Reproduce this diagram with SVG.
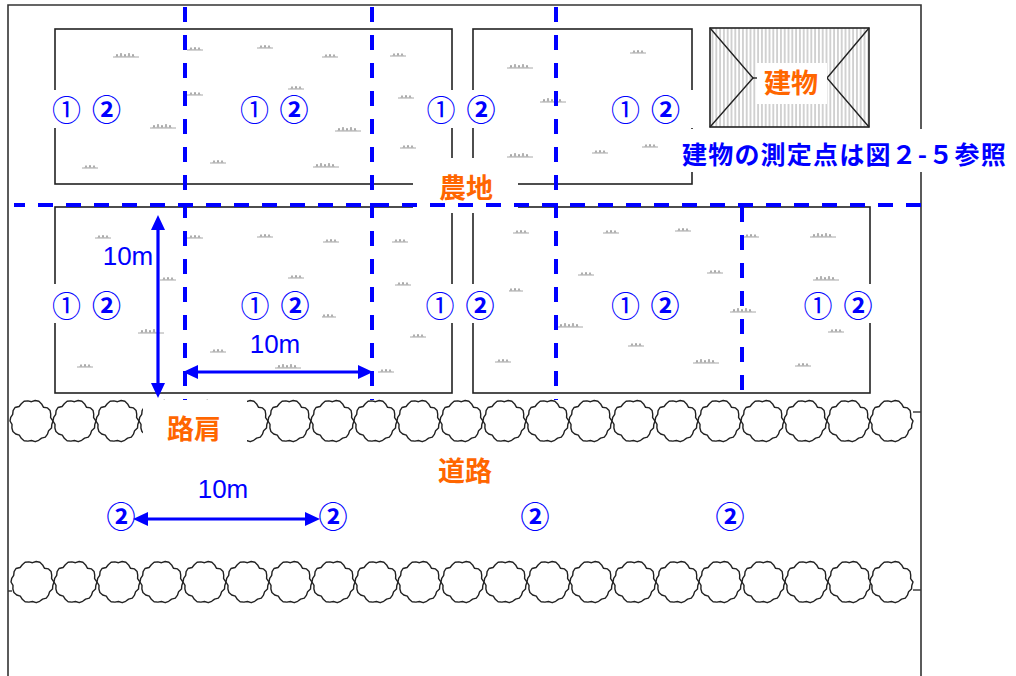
<svg xmlns="http://www.w3.org/2000/svg" xmlns:xlink="http://www.w3.org/1999/xlink" width="1016" height="676" viewBox="0 0 1016 676">
<style>
.frame{fill:none;stroke:#333;stroke-width:1.6}
.field{fill:#fff;stroke:#222;stroke-width:1.6}
.wb{fill:#fff;stroke:none}
.dash{stroke:#0000ff;stroke-width:4;stroke-dasharray:15 13;fill:none}
.arr{stroke:#0000ff;stroke-width:3.2;fill:none;marker-start:url(#ah);marker-end:url(#ah)}
.c{font-family:"Noto Sans CJK JP","DejaVu Sans",sans-serif;font-size:29px;fill:#0000ff;text-anchor:middle}
.cb{font-weight:bold}
.m{font-family:"Liberation Sans","Noto Sans CJK JP",sans-serif;font-size:26px;fill:#0000ff;text-anchor:middle}
.o{font-family:"Noto Sans CJK JP",sans-serif;font-size:27px;font-weight:bold;fill:#ff6600;text-anchor:middle}
.bt{font-family:"Noto Sans CJK JP",sans-serif;font-size:25px;font-weight:bold;fill:#0000ff;letter-spacing:1.2px}
.stub{stroke:#333;stroke-width:1.4}
</style>
<defs>
<marker id="ah" markerUnits="userSpaceOnUse" markerWidth="16" markerHeight="15" refX="5" refY="7" orient="auto-start-reverse">
<path d="M0,0 L15,7 L0,14 Z" fill="#0000ff"/>
</marker>
<pattern id="hatch" width="3.8" height="10" patternUnits="userSpaceOnUse">
<line x1="1.9" y1="0" x2="1.9" y2="10" stroke="#9a9a9a" stroke-width="0.9"/>
</pattern>
<path id="shrub" d="M21.5,0 L20.3,3.5 L20,7.1 L17.1,9.7 L16,13.1 L13.8,16.1 L10.1,17.1 L7.2,19.3 L3.7,20.7 L0,19.5 L-3.6,20.1 L-7.4,19.7 L-10.2,17.3 L-12.2,14.2 L-15.8,13 L-18.6,10.5 L-19.6,7 L-19.5,3.4 L-21.5,0 L-20.8,-3.6 L-18.8,-6.7 L-18.4,-10.4 L-16.5,-13.5 L-12.4,-14.5 L-10.2,-17.3 L-7.4,-19.7 L-3.6,-20.1 L0,-19.3 L3.7,-20.5 L7.4,-19.7 L10.1,-17.1 L11.9,-13.8 L16,-13.1 L18.6,-10.5 L19.2,-6.8 L19.1,-3.3 Z" fill="#fff" stroke="#222" stroke-width="1.4" stroke-linejoin="round"/>
<path id="ts" d="M0,0 H16 M3,0 l1,-2.5 l1,2.5 M7,0 l1,-3 l1,3 M11,0 l1,-2.5 l1,2.5" stroke="#a8a8a8" stroke-width="1" fill="none"/>
<path id="tl" d="M0,0 H26 M3,0 l1,-3 l1,3 M7,0 l1,-4 l1,4 M11,0 l1,-3 l1,3 M15,0 l1,-4 l1,4 M19,0 l1,-3 l1,3" stroke="#a8a8a8" stroke-width="1" fill="none"/>
</defs>
<rect width="1016" height="676" fill="#fff"/>

<g id="frame">
<polyline class="frame" points="8,676 8,5 921,5 921,676"/>
</g>

<g id="fields">
<rect id="field-tl" class="field" x="55" y="29" width="397" height="155"/>
<rect id="field-tr" class="field" x="473" y="29" width="219" height="155"/>
<rect id="field-bl" class="field" x="55" y="207" width="397" height="186"/>
<rect id="field-br" class="field" x="473" y="207" width="397" height="186"/>
</g>

<g id="grass">
<use href="#tl" x="113" y="57"/><use href="#ts" x="187" y="50"/><use href="#ts" x="257" y="48"/>
<use href="#ts" x="322" y="57"/><use href="#ts" x="390" y="56"/><use href="#ts" x="187" y="95"/>
<use href="#ts" x="288" y="89"/><use href="#ts" x="398" y="98"/><use href="#tl" x="150" y="128"/>
<use href="#tl" x="335" y="131"/><use href="#ts" x="400" y="148"/><use href="#ts" x="82" y="168"/>
<use href="#ts" x="210" y="163"/><use href="#tl" x="313" y="167"/>
<use href="#tl" x="507" y="68"/><use href="#tl" x="540" y="102"/><use href="#tl" x="507" y="157"/>
<use href="#ts" x="630" y="53"/><use href="#ts" x="592" y="153"/><use href="#ts" x="642" y="147"/>
<use href="#ts" x="95" y="238"/><use href="#ts" x="160" y="280"/><use href="#tl" x="138" y="333"/>
<use href="#ts" x="77" y="367"/><use href="#ts" x="187" y="238"/><use href="#ts" x="257" y="237"/>
<use href="#ts" x="288" y="278"/><use href="#ts" x="323" y="242"/><use href="#ts" x="320" y="317"/>
<use href="#ts" x="210" y="352"/><use href="#tl" x="275" y="368"/><use href="#ts" x="378" y="372"/>
<use href="#ts" x="392" y="242"/><use href="#ts" x="395" y="285"/><use href="#ts" x="410" y="337"/>
<use href="#ts" x="513" y="233"/><use href="#ts" x="603" y="233"/><use href="#ts" x="675" y="231"/>
<use href="#ts" x="578" y="275"/><use href="#ts" x="507" y="291"/><use href="#tl" x="557" y="327"/>
<use href="#ts" x="628" y="346"/><use href="#ts" x="495" y="362"/><use href="#tl" x="693" y="363"/>
<use href="#ts" x="743" y="237"/><use href="#tl" x="810" y="237"/><use href="#ts" x="707" y="273"/>
<use href="#tl" x="813" y="280"/><use href="#tl" x="730" y="312"/><use href="#ts" x="828" y="332"/>
<use href="#ts" x="795" y="366"/>
</g>

<g id="building">
<rect x="710" y="28" width="159" height="99" fill="url(#hatch)" stroke="#222" stroke-width="1.6"/>
<polyline points="710,28 753,78 710,127" fill="none" stroke="#222" stroke-width="1.4"/>
<polyline points="869,28 827,78 869,127" fill="none" stroke="#222" stroke-width="1.4"/>
<line x1="753" y1="78" x2="757" y2="78" stroke="#222" stroke-width="1.4"/>
<rect class="wb" x="757" y="63" width="70" height="41"/>
<text class="o" x="791" y="93">建物</text>
</g>

<g id="label-boxes">
<rect class="wb" x="46" y="90" width="88" height="38"/>
<rect class="wb" x="234" y="90" width="88" height="38"/>
<rect class="wb" x="421" y="90" width="88" height="38"/>
<rect class="wb" x="605" y="90" width="90" height="38"/>
<rect class="wb" x="46" y="284" width="88" height="39"/>
<rect class="wb" x="234" y="284" width="88" height="39"/>
<rect class="wb" x="421" y="284" width="88" height="39"/>
<rect class="wb" x="605" y="284" width="88" height="39"/>
<rect class="wb" x="798" y="284" width="88" height="39"/>
<rect class="wb" x="680" y="129" width="334" height="43"/>
<rect class="wb" x="413" y="158" width="105" height="55"/>
</g>

<g id="measure-lines">
<line class="dash" x1="14" y1="205" x2="921" y2="205" stroke-dashoffset="4"/>
<line class="dash" x1="185" y1="7" x2="185" y2="400"/>
<line class="dash" x1="372" y1="7" x2="372" y2="400"/>
<line class="dash" x1="556" y1="7" x2="556" y2="400"/>
<line class="dash" x1="742" y1="207" x2="742" y2="393"/>
</g>

<g id="hedges">
<line class="stub" x1="913" y1="412" x2="921" y2="412"/>
<line class="stub" x1="8" y1="591" x2="12" y2="591"/>
<line class="stub" x1="913" y1="590" x2="921" y2="590"/>
<g id="hedge-top">
<use href="#shrub" x="31.5" y="421"/><use href="#shrub" x="74.5" y="421"/><use href="#shrub" x="117.5" y="421"/>
<use href="#shrub" x="160.5" y="421"/><use href="#shrub" x="203.5" y="421"/><use href="#shrub" x="246.5" y="421"/>
<use href="#shrub" x="289.5" y="421"/><use href="#shrub" x="332.5" y="421"/><use href="#shrub" x="375.5" y="421"/>
<use href="#shrub" x="418.5" y="421"/><use href="#shrub" x="461.5" y="421"/><use href="#shrub" x="504.5" y="421"/>
<use href="#shrub" x="547.5" y="421"/><use href="#shrub" x="590.5" y="421"/><use href="#shrub" x="633.5" y="421"/>
<use href="#shrub" x="676.5" y="421"/><use href="#shrub" x="719.5" y="421"/><use href="#shrub" x="762.5" y="421"/>
<use href="#shrub" x="805.5" y="421"/><use href="#shrub" x="848.5" y="421"/><use href="#shrub" x="891.5" y="421"/>
</g>
<g id="hedge-bottom">
<use href="#shrub" x="32.5" y="582"/><use href="#shrub" x="75.5" y="582"/><use href="#shrub" x="118.5" y="582"/>
<use href="#shrub" x="161.5" y="582"/><use href="#shrub" x="204.5" y="582"/><use href="#shrub" x="247.5" y="582"/>
<use href="#shrub" x="290.5" y="582"/><use href="#shrub" x="333.5" y="582"/><use href="#shrub" x="376.5" y="582"/>
<use href="#shrub" x="419.5" y="582"/><use href="#shrub" x="462.5" y="582"/><use href="#shrub" x="505.5" y="582"/>
<use href="#shrub" x="548.5" y="582"/><use href="#shrub" x="591.5" y="582"/><use href="#shrub" x="634.5" y="582"/>
<use href="#shrub" x="677.5" y="582"/><use href="#shrub" x="720.5" y="582"/><use href="#shrub" x="763.5" y="582"/>
<use href="#shrub" x="806.5" y="582"/><use href="#shrub" x="849.5" y="582"/><use href="#shrub" x="891.5" y="582"/>
</g>
<rect class="wb" x="143" y="400" width="104" height="47"/>
</g>

<g id="connectors">
<line class="arr" x1="158" y1="225" x2="158" y2="388"/>
<line class="arr" x1="193" y1="372" x2="363" y2="372"/>
<line class="arr" x1="143" y1="519" x2="310" y2="519"/>
</g>

<g id="labels">
<text class="m" x="128" y="265">10m</text>
<text class="m" x="275" y="353">10m</text>
<text class="m" x="223" y="498">10m</text>

<text class="o" x="466" y="198">農地</text>
<text class="o" x="194" y="439">路肩</text>
<text class="o" x="465" y="481">道路</text>
<text class="bt" x="682" y="164">建物の測定点は図２-５参照</text>

<text class="c" x="66.5" y="120.5">①</text><text class="c cb" x="106.5" y="120.5">②</text>
<text class="c" x="254.5" y="120.5">①</text><text class="c cb" x="294" y="120.5">②</text>
<text class="c" x="441" y="120.5">①</text><text class="c cb" x="481" y="120.5">②</text>
<text class="c" x="625.5" y="120.5">①</text><text class="c cb" x="665.5" y="120.5">②</text>

<text class="c" x="66.5" y="317">①</text><text class="c cb" x="106.5" y="317">②</text>
<text class="c" x="255" y="317">①</text><text class="c cb" x="295" y="317">②</text>
<text class="c" x="440" y="317">①</text><text class="c cb" x="480" y="317">②</text>
<text class="c" x="625.5" y="317">①</text><text class="c cb" x="665" y="317">②</text>
<text class="c" x="818" y="317">①</text><text class="c cb" x="858" y="317">②</text>

<text class="c cb" x="121" y="527.5">②</text>
<text class="c cb" x="333" y="527.5">②</text>
<text class="c cb" x="535" y="527.5">②</text>
<text class="c cb" x="730" y="527.5">②</text>
</g>
</svg>
